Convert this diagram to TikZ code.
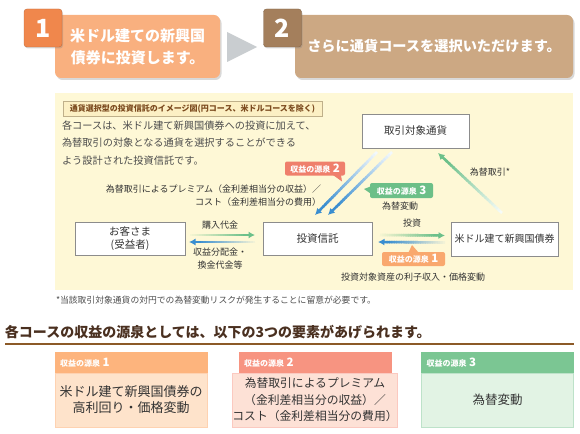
\documentclass[tikz,border=0pt]{standalone}
\usepackage{fontspec}
\setmainfont{Noto Sans CJK JP}
\usetikzlibrary{calc,arrows.meta,shadows}
\definecolor{numA}{HTML}{F0874C}
\definecolor{boxA}{HTML}{F9B07F}
\definecolor{numB}{HTML}{A47F5C}
\definecolor{boxB}{HTML}{CCA883}
\definecolor{tri}{HTML}{C9CDD0}
\definecolor{panel}{HTML}{FEF8D6}
\definecolor{titfill}{HTML}{FCF0C4}
\definecolor{titdraw}{HTML}{BFB08A}
\definecolor{tittext}{HTML}{7B4A1E}
\definecolor{txtgray}{HTML}{4D4D4D}
\definecolor{txtdark}{HTML}{333333}
\definecolor{boxgray}{HTML}{8C8C8C}
\definecolor{arrblue}{HTML}{3A8ED0}
\definecolor{arrgreen}{HTML}{6CC08A}
\definecolor{srcone}{HTML}{F9A86E}
\definecolor{srctwo}{HTML}{EF7F6C}
\definecolor{srcthree}{HTML}{6CBF88}
\definecolor{hone}{HTML}{FDB47D}
\definecolor{htwo}{HTML}{F79481}
\definecolor{hthree}{HTML}{7BC693}
\definecolor{bone}{HTML}{FEE3CB}
\definecolor{btwo}{HTML}{FDE1D6}
\definecolor{bthree}{HTML}{E2F3E4}
\definecolor{headtxt}{HTML}{4A3020}
\definecolor{headline}{HTML}{8C5A28}
\newcommand\srclab[1]{{\fontsize{8}{8}\selectfont\bfseries 収益の源泉}\hspace{2.5pt}{\fontsize{11.5}{11.5}\selectfont\bfseries #1}}
\newcommand\gradarrow[4]{%
  \foreach \k [evaluate=\k as \pc using {int(6+94*\k/23)},
               evaluate=\k as \f using {\k/28},
               evaluate=\k as \g using {(\k+1.4)/28}] in {0,...,23}{%
    \draw[line width=2.6pt, color=#3!\pc!#4] ($(#1)!\f!(#2)$) -- ($(#1)!\g!(#2)$);
  }%
  \draw[line width=2.6pt, color=#3, -{Latex[length=6.5pt,width=7pt]}] ($(#1)!0.857!(#2)$) -- (#2);
}
\begin{document}
\begin{tikzpicture}[x=1pt,y=-1pt,
  every node/.style={inner sep=0pt, outer sep=0pt},
  numbox/.style={draw=#1!80!black, fill=#1, rounded corners=3pt, minimum width=38pt, minimum height=38pt,
     text=white, font=\fontsize{25}{25}\selectfont\bfseries,
     drop shadow={shadow xshift=1pt, shadow yshift=-1.5pt, opacity=0.3}},
  topbox/.style={fill=#1, rounded corners=6pt, text=white, align=center,
     drop shadow={shadow xshift=1.5pt, shadow yshift=-2pt, opacity=0.3}},
  plain/.style={draw=boxgray, fill=white, line width=0.8pt, font=\fontsize{10.5}{13}\selectfont, align=center, text=txtdark},
  lbl/.style={font=\fontsize{9}{13}\selectfont, text=txtdark, align=center},
  callout/.style={fill=#1, rounded corners=2pt, minimum width=62pt, minimum height=14pt, text=white},
  hdr/.style={fill=#1, draw=#1, minimum width=152pt, minimum height=21pt, text width=142pt, align=left, text=white},
  bodybox/.style={fill=#1, minimum width=152pt, minimum height=54pt, align=center, text=txtdark}
]
\useasboundingbox (0,0) rectangle (580,433);

% top steps
\node[topbox=boxA, minimum width=165pt, minimum height=63pt, font=\fontsize{15}{22}\selectfont\bfseries] (t1) at (137.5,46.5) {米ドル建ての新興国\\債券に投資します。};
\node[numbox=numA] (n1) at (43,28) {1};
\fill[tri] (227,32) -- (257,47) -- (227,62) -- cycle;
\node[topbox=boxB, minimum width=278pt, minimum height=63pt, font=\fontsize{14.2}{20}\selectfont\bfseries] (t2) at (434,46.5) {さらに通貨コースを選択いただけます。};
\node[numbox=numB] (n2) at (282.5,28) {2};

% panel
\fill[panel] (55,93) rectangle (573,290);
\node[fill=titfill, draw=titdraw, line width=0.6pt, minimum width=259pt, minimum height=15pt,
      font=\fontsize{8}{8}\selectfont\bfseries, text=tittext] (title) at (192.5,109)
      {通貨選択型の投資信託のイメージ図(円コース、米ドルコースを除く)};
\node[anchor=north west, align=left, font=\fontsize{10.2}{17.5}\selectfont, text=txtgray] (desc) at (62,120.5)
      {各コースは、米ドル建て新興国債券への投資に加えて、\\為替取引の対象となる通貨を選択することができる\\よう設計された投資信託です。};

% boxes
\node[plain, minimum width=107pt, minimum height=34pt] (cur) at (415.5,131) {取引対象通貨};
\node[plain, minimum width=109pt, minimum height=33pt] (fund) at (317.5,238.5) {投資信託};
\node[plain, minimum width=110pt, minimum height=33pt] (cust) at (130,238.5) {お客さま\\(受益者)};
\node[plain, minimum width=107pt, minimum height=34pt, font=\fontsize{10}{13}\selectfont] (bond) at (504.5,239) {米ドル建て新興国債券};

% connector end points
\coordinate (ga1) at ($(cust.east)+(5,-3.5)$);
\coordinate (ga2) at ($(fund.west)+(-8,-3.5)$);
\coordinate (ba1) at ($(fund.west)+(-8,3.5)$);
\coordinate (ba2) at ($(cust.east)+(4,3.5)$);
\coordinate (gb1) at ($(fund.east)+(8,-3.5)$);
\coordinate (gb2) at ($(bond.west)+(-6,-3.5)$);
\coordinate (bb1) at ($(bond.west)+(-6,3.5)$);
\coordinate (bb2) at ($(fund.east)+(6,3.5)$);
\coordinate (d1a) at ($(cur.south)+(-38.5,4)$);
\coordinate (d1b) at ($(fund.north)+(-2.5,-7)$);
\coordinate (d2a) at ($(cur.south)+(-23.5,4)$);
\coordinate (d2b) at ($(fund.north)+(10.5,-7)$);
\coordinate (e1) at ($(bond.north)+(-2.5,-9)$);
\coordinate (e2) at ($(cur.south)+(22.5,5)$);

\gradarrow{ga1}{ga2}{arrgreen}{panel}
\gradarrow{ba1}{ba2}{arrblue}{panel}
\gradarrow{gb1}{gb2}{arrgreen}{panel}
\gradarrow{bb1}{bb2}{arrblue}{panel}
\gradarrow{d1a}{d1b}{arrblue}{white}
\gradarrow{d2a}{d2b}{arrblue}{white}
\gradarrow{e1}{e2}{arrgreen}{white}

% callouts
\node[callout=srctwo, minimum width=60pt] (c2) at (315,168.5) {\srclab{2}};
\fill[srctwo] ($(c2.south east)+(-12,-0.5)$) -- ($(c2.south east)+(-4,-0.5)$) -- ($(c2.south east)+(-3,6)$) -- cycle;
\node[callout=srcthree, minimum width=63pt, minimum height=15pt] (c3) at (401.5,190.5) {\srclab{3}};
\fill[srcthree] ($(c3.west)+(0.5,-4)$) -- ($(c3.west)+(0.5,3)$) -- ($(c3.west)+(-6,-1.5)$) -- cycle;
\node[callout=srcone, minimum width=63pt] (c1) at (413.5,259) {\srclab{1}};
\fill[srcone] ($(c1.north)+(-5,0.5)$) -- ($(c1.north)+(5,0.5)$) -- ($(c1.north)+(-1.5,-7)$) -- cycle;

% labels
\node[lbl, anchor=east, align=right] (prem) at (321,196) {為替取引によるプレミアム（金利差相当分の収益）／\\コスト（金利差相当分の費用）};
\node[lbl] (fxv) at (400,206) {為替変動};
\node[lbl] (fxt) at (490,172) {為替取引*};
\node[lbl] (buy) at (220,225) {購入代金};
\node[lbl] (dist) at (220,258.5) {収益分配金・\\換金代金等};
\node[lbl] (inv) at (412,223) {投資};
\node[lbl] (inc) at (413,277) {投資対象資産の利子収入・価格変動};

% footnote
\node[anchor=west, font=\fontsize{8.8}{10}\selectfont, text=txtgray] (foot) at (56,300) {*当該取引対象通貨の対円での為替変動リスクが発生することに留意が必要です。};

% heading
\node[anchor=west, font=\fontsize{14}{16}\selectfont\bfseries, text=headtxt] (head) at (5,332) {各コースの収益の源泉としては、以下の3つの要素があげられます。};
\coordinate (ul1) at (5,344);
\coordinate (ul2) at (574,344);
\draw[headline, line width=2pt] (ul1) -- (ul2);

% bottom boxes
\node[hdr=hone] (h1) at (131,362.5) {\srclab{1}};
\node[bodybox=bone, draw=hone!60, font=\fontsize{13}{16}\selectfont] (bd1) at (131,400) {米ドル建て新興国債券の\\高利回り・価格変動};
\node[hdr=htwo] (h2) at (315,362.5) {\srclab{2}};
\node[bodybox=btwo, draw=htwo!50, font=\fontsize{11.8}{16.5}\selectfont] (bd2) at (315,400) {為替取引によるプレミアム\\（金利差相当分の収益）／\\コスト（金利差相当分の費用）};
\node[hdr=hthree] (h3) at (497.5,362.5) {\srclab{3}};
\node[bodybox=bthree, draw=hthree!50, font=\fontsize{12.5}{16}\selectfont] (bd3) at (497.5,400) {為替変動};
\end{tikzpicture}
\end{document}
